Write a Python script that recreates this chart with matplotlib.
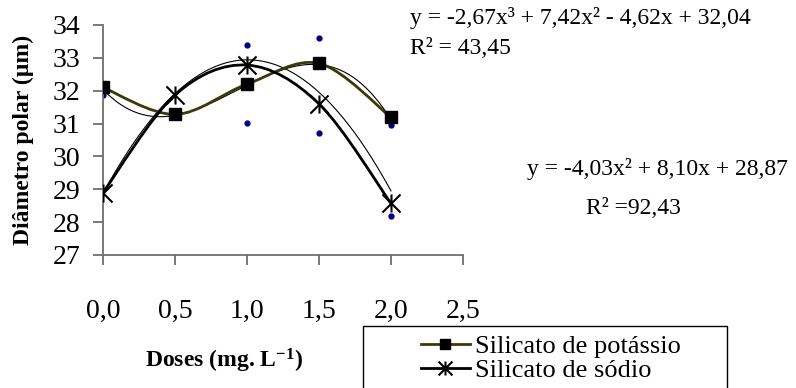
import numpy as np
import matplotlib
matplotlib.use('Agg')
import matplotlib.pyplot as plt
from matplotlib.path import Path
from matplotlib.patches import PathPatch, Rectangle
from matplotlib.lines import Line2D

plt.rcParams['font.family'] = ['Liberation Serif', 'DejaVu Serif']
plt.rcParams['mathtext.fontset'] = 'custom'
plt.rcParams['mathtext.rm'] = 'Liberation Serif'
plt.rcParams['mathtext.it'] = 'Liberation Serif:italic'
plt.rcParams['mathtext.bf'] = 'Liberation Serif:bold'

# doses (mg/L) and mean polar diameter (um)
doses = [0.0, 0.5, 1.0, 1.5, 2.0]
potassio = [32.1, 31.28, 32.2, 32.83, 31.19]
sodio = [28.9, 31.87, 32.78, 31.6, 28.57]

# isolated points (small blue dots)
pontos_x = [0.0, 1.0, 1.0, 1.5, 1.5, 2.0, 2.0]
pontos_y = [31.87, 33.39, 31.02, 33.6, 30.7, 30.96, 28.2]

# trend line coefficients (highest power first)
coef_potassio = [-2.67, 7.42, -4.62, 32.04]
coef_sodio = [-4.03, 8.10, 28.87]

eq_potassio = 'y = -2,67x³ + 7,42x² - 4,62x + 32,04'
r2_potassio = 'R² = 43,45'
eq_sodio = 'y = -4,03x² + 8,10x + 28,87'
r2_sodio = 'R² =92,43'

xticks = [0.0, 0.5, 1.0, 1.5, 2.0, 2.5]
xticklabels = ['0,0', '0,5', '1,0', '1,5', '2,0', '2,5']
yticks = [27, 28, 29, 30, 31, 32, 33, 34]

W, H = 796, 388
OLIVA = '#3a3a08'
EIXO = '#6e6e6e'

# asterisk marker: an X with a vertical bar through it
estrela = Path([(0, -1), (0, 1), (-1, -1), (1, 1), (-1, 1), (1, -1)],
               [Path.MOVETO, Path.LINETO] * 3)


def curva_suave(ax, x, y, **kw):
    """smoothed line through the points (cubic bezier, catmull-rom style)"""
    pts = np.column_stack([x, y])
    n = len(pts)
    verts = [pts[0]]
    codes = [Path.MOVETO]
    for i in range(n - 1):
        p0 = pts[max(i - 1, 0)]
        p1 = pts[i]
        p2 = pts[i + 1]
        p3 = pts[min(i + 2, n - 1)]
        verts += [p1 + (p2 - p0) / 6, p2 - (p3 - p1) / 6, p2]
        codes += [Path.CURVE4] * 3
    ax.add_patch(PathPatch(Path(verts, codes), fill=False, **kw))


fig = plt.figure(figsize=(W / 100, H / 100), dpi=100)
ax = fig.add_axes([103 / W, 1 - 255 / H, 360 / W, 230 / H])

xs = np.linspace(0, 2, 200)
ax.plot(xs, np.polyval(coef_potassio, xs), color='black', lw=0.8, zorder=2)
ax.plot(xs, np.polyval(coef_sodio, xs), color='black', lw=0.8, zorder=2)

curva_suave(ax, doses, potassio, ec=OLIVA, lw=2.0, zorder=3)
curva_suave(ax, doses, sodio, ec='black', lw=2.0, zorder=3)

ax.plot(pontos_x, pontos_y, ls='none', marker='o', ms=3.5, color='#000080',
        zorder=1)
ax.plot(doses, potassio, ls='none', marker='s', ms=9, color='black', zorder=4)
ax.plot(doses, sodio, ls='none', marker=estrela, ms=13, mew=1.5,
        color='black', zorder=4)

ax.set_xlim(0, 2.5)
ax.set_ylim(27, 34)
ax.set_xticks(xticks)
ax.set_xticklabels(xticklabels)
ax.set_yticks(yticks)
for s in ['top', 'right']:
    ax.spines[s].set_visible(False)
for s in ['left', 'bottom']:
    ax.spines[s].set_color(EIXO)
    ax.spines[s].set_linewidth(1.3)
ax.tick_params(axis='both', labelsize=20, length=7.5, width=1.3, color=EIXO)
ax.tick_params(axis='x', pad=24)
ax.tick_params(axis='y', pad=9)

# equations of the fitted curves
fig.text(410 / W, 1 - 18 / H, eq_potassio, fontsize=17, va='center')
fig.text(410 / W, 1 - 49 / H, r2_potassio, fontsize=17, va='center')
fig.text(527 / W, 1 - 169 / H, eq_sodio, fontsize=17, va='center')
fig.text(586 / W, 1 - 208 / H, r2_sodio, fontsize=17, va='center')

fig.text(23 / W, 1 - 140 / H, 'Diâmetro polar (µm)', fontsize=17,
         fontweight='bold', rotation=90, ha='center', va='center')
fig.text(224 / W, 1 - 361 / H, r'Doses (mg. L$^{\mathbf{-1}}$)', fontsize=17,
         fontweight='bold', ha='center', va='center')

# legend inside an open-bottom box
fig.add_artist(Rectangle((363 / W, -0.05), 364 / W, (H - 326) / H + 0.05,
                         transform=fig.transFigure, fill=False,
                         ec='black', lw=1.0))
handles = [
    Line2D([], [], color=OLIVA, lw=2, marker='s', ms=7, mfc='black',
           mec='black'),
    Line2D([], [], color='black', lw=2, marker=estrela, ms=10, mew=1.5),
]
fig.legend(handles, ['Silicato de potássio', 'Silicato de sódio'],
           loc='upper left', bbox_to_anchor=(421 / W, 1 - 335 / H),
           bbox_transform=fig.transFigure, frameon=False,
           prop={'family': 'Liberation Serif', 'size': 19},
           handlelength=1.85, handletextpad=0.2, labelspacing=0.0,
           borderpad=0, borderaxespad=0)

fig.savefig('out.png', dpi=100)
